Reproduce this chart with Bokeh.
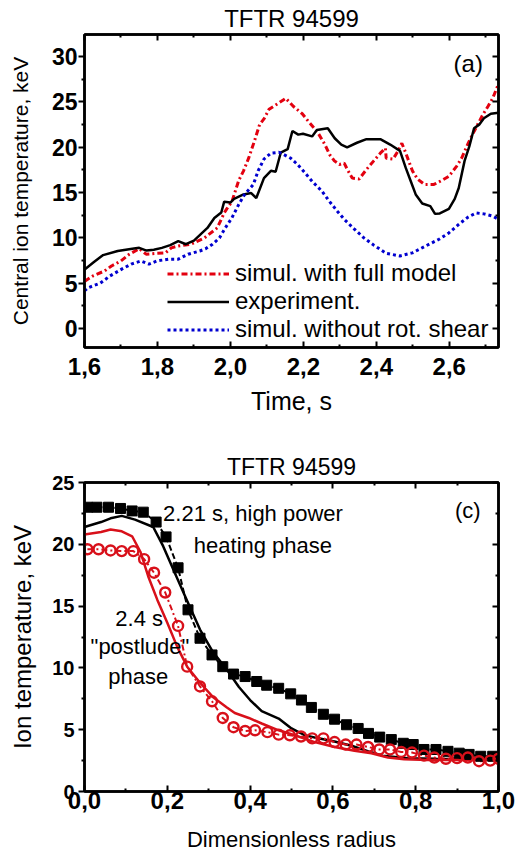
from bokeh.plotting import figure
from bokeh.layouts import column
from bokeh.models import (Range1d, FixedTicker, LinearAxis, CustomJSTickFormatter,
                          Legend, LegendItem, Label)
from bokeh.embed import file_html
from bokeh.resources import INLINE

FONT = "Liberation Sans"

# ---------------- panel (a) data ----------------
t_exp = [1.600, 1.603, 1.625, 1.651, 1.691, 1.731, 1.750, 1.770, 1.790, 1.812, 1.835, 1.857,
         1.878, 1.900, 1.937, 1.956, 1.975, 1.983, 2.000, 2.010, 2.036, 2.057, 2.071, 2.092,
         2.111, 2.124, 2.138, 2.157, 2.170, 2.186, 2.199, 2.224, 2.237, 2.267, 2.286, 2.304,
         2.320, 2.347, 2.373, 2.411, 2.438, 2.465, 2.481, 2.494, 2.508, 2.526, 2.548, 2.561,
         2.574, 2.599, 2.615, 2.626, 2.642, 2.655, 2.668, 2.682, 2.695, 2.714, 2.735]
T_exp = [6.5, 6.6, 7.3, 8.1, 8.55, 8.8, 8.9, 8.6, 8.7, 8.9, 9.2, 9.65,
         9.3, 9.7, 11.1, 12.2, 12.8, 14.0, 13.9, 14.3, 14.8, 14.95, 14.4, 16.6,
         17.4, 17.3, 19.4, 19.8, 21.8, 21.4, 21.5, 21.2, 21.9, 22.1, 21.0, 20.3,
         20.0, 20.5, 20.9, 20.9, 20.3, 19.6, 17.7, 16.3, 14.8, 13.8, 13.5, 12.65,
         12.7, 13.2, 14.3, 15.5, 18.5, 20.1, 22.1, 22.5, 23.2, 23.7, 23.8]

t_full = [1.600, 1.623, 1.655, 1.674, 1.700, 1.723, 1.750, 1.769, 1.798, 1.822, 1.838, 1.857,
          1.892, 1.929, 1.964, 1.983, 1.990, 2.004, 2.023, 2.036, 2.050, 2.066, 2.080, 2.093,
          2.106, 2.133, 2.152, 2.173, 2.197, 2.213, 2.240, 2.259, 2.272, 2.285, 2.299, 2.312,
          2.320, 2.334, 2.353, 2.374, 2.393, 2.411, 2.425, 2.427, 2.446, 2.459, 2.470, 2.481,
          2.491, 2.499, 2.513, 2.532, 2.558, 2.580, 2.599, 2.620, 2.634, 2.652, 2.668, 2.692,
          2.706, 2.719, 2.735]
T_full = [5.2, 5.8, 6.35, 6.9, 7.45, 8.2, 8.8, 8.2, 8.3, 8.35, 8.9, 9.1,
          9.3, 10.0, 11.1, 12.75, 13.2, 14.0, 16.35, 17.4, 18.8, 20.7, 22.5, 23.2,
          24.2, 24.9, 25.4, 24.5, 23.7, 22.9, 21.6, 20.3, 19.2, 18.5, 18.1, 18.25,
          17.6, 16.6, 16.5, 17.6, 18.5, 19.35, 19.9, 18.8, 18.7, 19.55, 20.45, 19.35,
          18.25, 17.4, 16.5, 15.9, 15.9, 16.35, 16.8, 17.9, 18.8, 20.45, 21.75, 23.6,
          24.5, 25.4, 27.0]

t_norot = [1.600, 1.610, 1.643, 1.670, 1.702, 1.728, 1.755, 1.777, 1.798, 1.830, 1.857, 1.884,
           1.916, 1.932, 1.951, 1.970, 1.986, 2.004, 2.023, 2.039, 2.063, 2.076, 2.092, 2.111,
           2.133, 2.146, 2.165, 2.184, 2.205, 2.224, 2.251, 2.272, 2.293, 2.312, 2.339, 2.366,
           2.393, 2.427, 2.465, 2.499, 2.535, 2.572, 2.599, 2.626, 2.652, 2.674, 2.695, 2.719,
           2.735]
T_norot = [4.15, 4.5, 5.0, 5.8, 6.55, 7.1, 7.45, 7.1, 7.45, 7.65, 7.65, 8.2,
           8.55, 8.8, 9.3, 10.0, 11.1, 12.2, 13.7, 14.8, 15.9, 17.4, 18.7, 19.35,
           19.45, 19.2, 18.8, 18.1, 17.15, 16.25, 15.15, 14.0, 12.95, 12.05, 11.0, 10.0,
           9.2, 8.3, 8.0, 8.35, 9.1, 9.85, 10.55, 11.5, 12.3, 12.75, 12.65, 12.4,
           12.05]

a_xticks = [1.6, 1.8, 2.0, 2.2, 2.4, 2.6]
a_xlabels = ["1,6", "1,8", "2,0", "2,2", "2,4", "2,6"]
a_xminor = [1.7, 1.9, 2.1, 2.3, 2.5, 2.7]
a_yticks = [0, 5, 10, 15, 20, 25, 30]
a_yminor = [-2.5, 2.5, 7.5, 12.5, 17.5, 22.5, 27.5, 32.5]

# ---------------- panel (c) data ----------------
r_sq = [0.007, 0.030, 0.058, 0.087, 0.115, 0.142, 0.173, 0.197, 0.226, 0.250, 0.279, 0.308,
        0.334, 0.360, 0.388, 0.416, 0.440, 0.469, 0.498, 0.524, 0.548, 0.577, 0.604, 0.633,
        0.661, 0.686, 0.713, 0.741, 0.770, 0.794, 0.820, 0.849, 0.878, 0.905, 0.929, 0.957,
        0.986]
T_sq = [23.0, 23.0, 23.0, 22.9, 22.7, 22.6, 21.8, 20.6, 18.1, 14.7, 12.4, 11.05,
        10.1, 9.5, 9.3, 8.9, 8.6, 8.35, 7.9, 7.4, 6.8, 6.25, 5.85, 5.4,
        5.1, 4.7, 4.4, 4.2, 3.9, 3.8, 3.4, 3.4, 3.25, 3.1, 3.0, 2.85,
        2.85]

r_sim221 = [0.0, 0.04, 0.063, 0.09, 0.122, 0.166, 0.19, 0.214, 0.247, 0.279, 0.31, 0.344,
            0.373, 0.40, 0.428, 0.469, 0.50, 0.532, 0.565, 0.604, 0.645, 0.686, 0.72, 0.78,
            0.85, 0.92, 1.0]
T_sim221 = [21.4, 21.8, 22.1, 22.3, 22.0, 21.4, 19.85, 18.0, 15.5, 13.1, 11.3, 9.85,
            8.45, 7.4, 6.5, 5.9, 5.1, 4.55, 4.3, 4.05, 3.7, 3.25, 2.9, 2.7,
            2.65, 2.62, 2.6]

r_sim24 = [0.0, 0.04, 0.063, 0.09, 0.115, 0.135, 0.154, 0.176, 0.2, 0.224, 0.248, 0.279,
           0.31, 0.344, 0.363, 0.397, 0.428, 0.469, 0.508, 0.556, 0.604, 0.652, 0.693, 0.733,
           0.772, 0.83, 0.9, 1.0]
T_sim24 = [20.8, 21.0, 21.2, 21.05, 20.65, 19.4, 17.4, 15.5, 13.65, 11.7, 10.1, 8.8,
           7.65, 6.8, 6.35, 5.95, 5.5, 4.95, 4.55, 4.0, 3.6, 3.3, 3.1, 2.75,
           2.6, 2.55, 2.55, 2.55]

r_circ = [0.007, 0.034, 0.063, 0.090, 0.118, 0.144, 0.168, 0.195, 0.226, 0.248, 0.279, 0.308,
          0.334, 0.360, 0.388, 0.412, 0.442, 0.469, 0.496, 0.523, 0.550, 0.577, 0.604, 0.631,
          0.657, 0.685, 0.712, 0.738, 0.765, 0.791, 0.820, 0.845, 0.873, 0.900, 0.926, 0.953,
          0.980, 1.0]
T_circ = [19.6, 19.6, 19.5, 19.45, 19.45, 18.8, 17.7, 16.1, 13.4, 10.1, 8.5, 7.3,
          5.95, 5.2, 4.9, 4.95, 4.8, 4.6, 4.55, 4.45, 4.3, 4.3, 4.0, 3.8,
          3.8, 3.6, 3.4, 3.4, 3.2, 3.15, 2.9, 2.75, 2.65, 2.7, 2.75, 2.45,
          2.5, 2.65]

c_xticks = [0.0, 0.2, 0.4, 0.6, 0.8, 1.0]
c_xlabels = ["0,0", "0,2", "0,4", "0,6", "0,8", "1,0"]
c_xminor = [0.1, 0.3, 0.5, 0.7, 0.9]
c_yticks = [0, 5, 10, 15, 20, 25]
c_yminor = [2.5, 7.5, 12.5, 17.5, 22.5]

RED = "#e3000f"
RED2 = "#d8101a"
BLUE = "#0000d0"
LW = 2.5

blank = CustomJSTickFormatter(code="return ''")


def style(p, xt, xmin, xlab, yt, ymin, xfs, yfs, xstand, ystand):
    p.outline_line_color = "black"
    p.outline_line_width = LW
    p.grid.visible = False
    p.background_fill_color = "white"
    p.border_fill_color = "white"
    p.min_border = 0
    xa = p.below[0]
    ya = p.left[0]
    xa.ticker = FixedTicker(ticks=xt, minor_ticks=xmin)
    xa.major_label_overrides = dict(zip(xt, xlab))
    ya.ticker = FixedTicker(ticks=yt, minor_ticks=ymin)
    for ax in (xa, ya):
        ax.axis_line_width = LW
        ax.major_tick_line_width = 2
        ax.minor_tick_line_width = 2
        ax.major_label_text_font = FONT
        ax.major_label_text_font_style = "bold"
        ax.major_label_text_color = "black"
        ax.axis_label_text_font = FONT
        ax.axis_label_text_font_style = "normal"
        ax.axis_label_text_color = "black"
    xa.major_label_text_font_size = xfs
    ya.major_label_text_font_size = yfs
    xa.major_tick_in, xa.major_tick_out = 6, 0
    xa.minor_tick_in, xa.minor_tick_out = 3, 0
    ya.major_tick_in, ya.major_tick_out = 0, 6
    ya.minor_tick_in, ya.minor_tick_out = 0, 3
    xa.major_label_standoff = xstand
    ya.major_label_standoff = ystand
    top = LinearAxis(ticker=FixedTicker(ticks=xt, minor_ticks=xmin), formatter=blank)
    right = LinearAxis(ticker=FixedTicker(ticks=yt, minor_ticks=ymin), formatter=blank)
    for ax in (top, right):
        ax.axis_line_width = LW
        ax.major_tick_line_width = 2
        ax.minor_tick_line_width = 2
        ax.major_tick_in, ax.major_tick_out = 6, 0
        ax.minor_tick_in, ax.minor_tick_out = 3, 0
        ax.major_label_standoff = 0
        ax.major_label_text_font_size = "1px"
    p.add_layout(top, "above")
    p.add_layout(right, "right")
    p.title.text_font = FONT
    p.title.text_font_style = "normal"
    p.title.align = "center"
    p.title.text_color = "black"
    p.title.standoff = 5
    return xa, ya


# ---------------- figure (a) ----------------
W = 517
pa = figure(width=W, height=425, output_backend="svg", toolbar_location=None,
            x_range=Range1d(1.6, 2.735), y_range=Range1d(-2.1, 32.45),
            title="TFTR 94599")
xa_a, ya_a = style(pa, a_xticks, a_xminor, a_xlabels, a_yticks, a_yminor, "24px", "23px", 10, 1)
pa.min_border_left = 84
pa.min_border_right = 9
pa.min_border_top = 33
pa.min_border_bottom = 78
pa.title.text_font_size = "24px"
xa_a.axis_label = "Time, s"
xa_a.axis_label_text_font_size = "25px"
xa_a.axis_label_standoff = 9
ya_a.axis_label = "Central ion temperature, keV"
ya_a.axis_label_text_font_size = "21px"
ya_a.axis_label_standoff = 17

r_full = pa.line(t_full, T_full, line_color=RED, line_width=3, line_dash="6 3 2 3")
r_exp = pa.line(t_exp, T_exp, line_color="black", line_width=LW)
r_norot = pa.line(t_norot, T_norot, line_color=BLUE, line_width=3, line_dash="3 3")

leg = Legend(items=[LegendItem(label="simul. with full model", renderers=[r_full]),
                    LegendItem(label="experiment.", renderers=[r_exp]),
                    LegendItem(label="simul. without rot. shear", renderers=[r_norot])],
             location=(83, 4), padding=0, margin=0, spacing=0,
             glyph_width=62, glyph_height=27, label_height=27, label_standoff=6,
             label_text_font=FONT, label_text_font_size="24px", label_text_color="black",
             background_fill_alpha=0, border_line_alpha=0)
pa.add_layout(leg, "center")
pa.add_layout(Label(x=2.652, y=29.3, text="(a)", text_font=FONT, text_font_size="24px",
                    text_align="center", text_baseline="middle", text_color="black"))

# ---------------- figure (c) ----------------
pc = figure(width=W, height=432, output_backend="svg", toolbar_location=None,
            x_range=Range1d(0, 1.0), y_range=Range1d(0, 25), title="TFTR 94599")
xa_c, ya_c = style(pc, c_xticks, c_xminor, c_xlabels, c_yticks, c_yminor, "24px", "20px", 0, 4)
pc.min_border_left = 82
pc.min_border_right = 19
pc.min_border_top = 57
pc.min_border_bottom = 66
pc.title.text_font_size = "23px"
xa_c.axis_label = "Dimensionless radius"
xa_c.axis_label_text_font_size = "22px"
xa_c.axis_label_standoff = 15
ya_c.axis_label = "Ion temperature, keV"
ya_c.axis_label_text_font_size = "24px"
ya_c.axis_label_standoff = 13

pc.line(r_sq, T_sq, line_color="black", line_width=2, line_dash="6 3")
pc.line(r_sim221, T_sim221, line_color="black", line_width=LW)
pc.line(r_circ, T_circ, line_color=RED2, line_width=2, line_dash="6 3 2 3")
pc.line(r_sim24, T_sim24, line_color=RED2, line_width=LW)
pc.scatter(r_sq, T_sq, marker="square", size=10, fill_color="black", line_color="black")
pc.scatter(r_circ, T_circ, marker="circle", size=10, fill_color="white", fill_alpha=0,
           line_color=RED2, line_width=2.4)

for (x, y, txt) in [(0.407, 22.5, "2.21 s, high power"), (0.431, 19.9, "heating phase"),
                    (0.132, 14.0, "2.4 s"), (0.134, 11.7, "\"postlude\""), (0.130, 9.27, "phase"),
                    (0.926, 22.7, "(c)")]:
    pc.add_layout(Label(x=x, y=y, text=txt, text_font=FONT, text_font_size="22px",
                        text_align="center", text_baseline="middle", text_color="black"))

layout = column(pa, pc, spacing=0)
open("out.html", "w").write(file_html(layout, INLINE))
